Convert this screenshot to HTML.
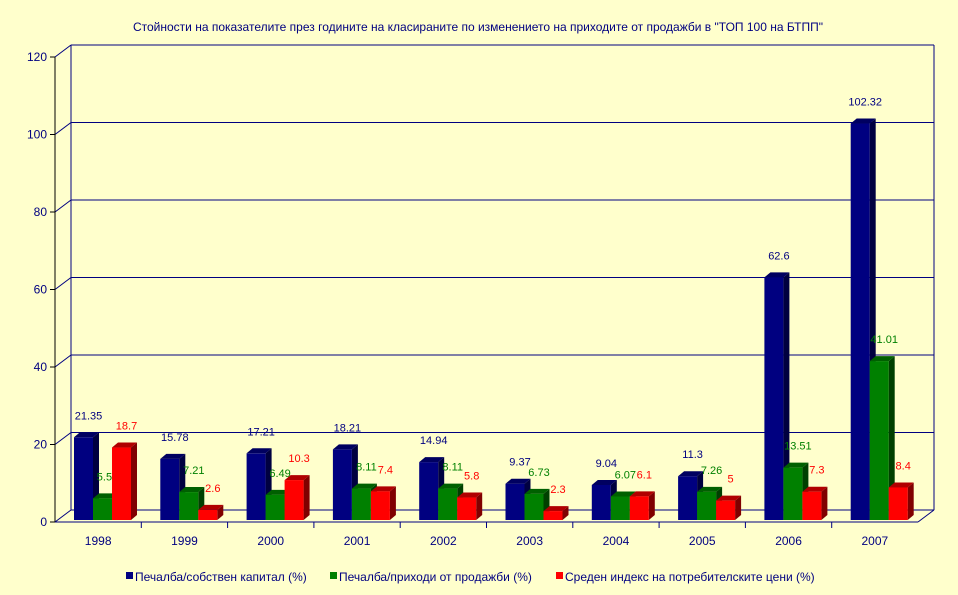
<!DOCTYPE html>
<html><head><meta charset="utf-8"><style>
body{margin:0;background:#FFFFCC;font-family:"Liberation Sans",sans-serif}
svg{display:block}
</style></head><body>
<svg id="c" width="958" height="595" xmlns="http://www.w3.org/2000/svg">
<rect width="958" height="595" fill="#FFFFCC"/>
<text x="478" y="31" text-anchor="middle" font-size="12" fill="#000080">Стойности на показателите през годините на класираните по изменението на приходите от продажби в  "ТОП 100 на БТПП"</text>
<g id="g"></g>
</svg>
<script>
const categories=["1998","1999","2000","2001","2002","2003","2004","2005","2006","2007"];
const seriesA=[21.35,15.78,17.21,18.21,14.94,9.37,9.04,11.3,62.6,102.32];
const seriesB=[5.59,7.21,6.49,8.11,8.11,6.73,6.07,7.26,13.51,41.01];
const seriesC=[18.7,2.6,10.3,7.4,5.8,2.3,6.1,5,7.3,8.4];
const seriesNames=["Печалба/собствен капитал (%)","Печалба/приходи от продажби (%)","Среден индекс на потребителските цени (%)"];
const yTicks=[0,20,40,60,80,100,120];
const NS="http://www.w3.org/2000/svg";
const g=document.getElementById('g');
const X0=55,X1=918,Y0=522,Y1=57,DX=16,DY=-12,YMAX=120;
const y=v=>Y0-(v/YMAX)*(Y0-Y1);
const cw=(X1-X0)/categories.length;
function el(t,a,txt){const e=document.createElementNS(NS,t);for(const k in a)e.setAttribute(k,a[k]);if(txt!==undefined)e.textContent=txt;g.appendChild(e);return e;}
// grid & back wall
yTicks.forEach(t=>{
 const l=el('line',{x1:X0+DX,y1:y(t)+DY,x2:X1+DX,y2:y(t)+DY,stroke:'#000080','stroke-width':1});
 
 const d=el('line',{x1:X0,y1:y(t),x2:X0+DX,y2:y(t)+DY,stroke:'#000080','stroke-width':1});
 
 const tk=el('line',{x1:X0-5,y1:y(t),x2:X0,y2:y(t),stroke:'#000','stroke-width':1});
 
 const lb=el('text',{x:X0-8,y:y(t)+4,'text-anchor':'end','font-size':12,fill:'#000080'},String(t));
 
});
el('line',{x1:X0+DX,y1:Y1+DY,x2:X0+DX,y2:Y0+DY,stroke:'#000080'});
el('line',{x1:X1+DX,y1:Y1+DY,x2:X1+DX,y2:Y0+DY,stroke:'#000080'});
el('line',{x1:X1,y1:Y0,x2:X1+DX,y2:Y0+DY,stroke:'#000080'});
el('line',{x1:X0,y1:Y1,x2:X0,y2:Y0,stroke:'#000'});
el('line',{x1:X0,y1:Y0,x2:X1,y2:Y0,stroke:'#000080'});
const cols=[["#000080","#000040","#000060"],["#008000","#004000","#006000"],["#FF0000","#800000","#B00000"]];
const data=[seriesA,seriesB,seriesC];
const BW=19,BD=6,BDY=-5;
categories.forEach((c,i)=>{
 const cx=X0+cw*i;
 if(i>0){const t=el('line',{x1:cx,y1:Y0,x2:cx,y2:Y0+6,stroke:'#000080'});}
 const lb=el('text',{x:cx+cw/2,y:Y0+23,'text-anchor':'middle','font-size':12,fill:'#000080'},c);
 
 data.forEach((s,k)=>{
  const v=s[i];const bx=cx+19+k*BW;const by=Y0-2;const ty=y(v)-2;
  const side=el('polygon',{points:`${bx+BW},${by} ${bx+BW+BD},${by+BDY} ${bx+BW+BD},${ty+BDY} ${bx+BW},${ty}`,fill:cols[k][1]});
  
  const top=el('polygon',{points:`${bx},${ty} ${bx+BD},${ty+BDY} ${bx+BW+BD},${ty+BDY} ${bx+BW},${ty}`,fill:cols[k][2]});
  
  const r=el('rect',{x:bx,y:ty,width:BW,height:by-ty,fill:cols[k][0]});
  
  const vt=el('text',{x:bx+BW/2+5,y:ty-18,'text-anchor':'middle','font-size':11,fill:cols[k][0]},String(v));
  
 });
});
// legend
const lx=[126,330,556];
seriesNames.forEach((n,k)=>{
 const r=el('rect',{x:lx[k],y:572,width:7,height:7,fill:cols[k][0]});
 
 const t=el('text',{x:lx[k]+9,y:581,'font-size':12,fill:'#000080'},n);
 
});
</script>
</body></html>
